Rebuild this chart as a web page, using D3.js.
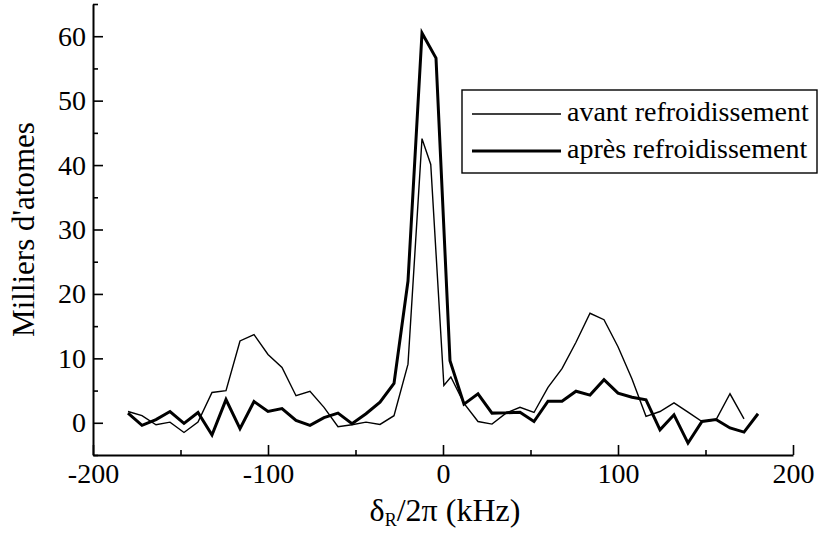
<!DOCTYPE html>
<html>
<head>
<meta charset="utf-8">
<script src="https://cdn.jsdelivr.net/npm/d3@7"></script>
<style>
  html, body { margin: 0; padding: 0; background: #fff; }
  svg { display: block; }
  svg text { font-family: "Times New Roman", Times, "Liberation Serif", serif !important; fill: #000; }
</style>
</head>
<body>
<svg id="chart" width="822" height="536"></svg>
<script>
// ---- data ----
const xAvant = [-180,-172,-164,-156,-148,-140,-132,-124,-116,-108,-100,-92,-84,-76,-68,-60,-52,-44,-36,-28,-20,-12,
                -7,0.5,4.5,
                12,20,28,36,44,52,60,68,76,84,92,100,108,116,124,132,140,148,156,164,172];
const avant = [1.75,1.1,-0.3,0.1,-1.5,0.1,4.7,5.0,12.7,13.7,10.6,8.6,4.2,4.9,2.4,-0.6,-0.3,0.1,-0.26,1.1,9.1,44.1,
               40.1,5.8,7.1,
               3.0,0.2,-0.2,1.5,2.4,1.6,5.5,8.4,12.5,17.0,16.0,11.8,6.8,1.0,1.75,3.1,1.65,0.2,0.46,4.5,0.6];
const xApres = [-180,-172,-164,-156,-148,-140,-132,-124,-116,-108,-100,-92,-84,-76,-68,-60,
                -52,-44,-36,-28,-20,-12,-4,4,12,20,28,
                36,44,52,60,68,76,84,92,100,
                108,116,124,132,140,148,156,164,172,180];
const apres = [1.5,-0.4,0.5,1.75,-0.1,1.6,-1.9,3.6,-0.9,3.3,1.75,2.2,0.36,-0.4,0.8,1.5,
               -0.15,1.4,3.2,6.1,22,60.5,56.6,9.65,2.9,4.5,1.5,
               1.55,1.65,0.2,3.35,3.35,4.9,4.3,6.7,4.6,
               3.97,3.56,-1.1,1.24,-3.15,0.2,0.5,-0.8,-1.45,1.4];
const xTicks = [-200,-100,0,100,200];
const xMinor = [-150,-50,50,150];
const yTicks = [0,10,20,30,40,50,60];
const yMinor = [-5,5,15,25,35,45,55,65];
const seriesNames = ["avant refroidissement", "après refroidissement"];

const FONT = "'Times New Roman', Times, 'Liberation Serif', serif";

// ---- layout ----
const svg = d3.select("#chart");
const x = d3.scaleLinear().domain([-200, 200]).range([93, 793]);
const y = d3.scaleLinear().domain([-5, 65]).range([455, 4]);

// axes
const fmt = d => String(d);
const gx = svg.append("g").attr("transform", `translate(0,${y(-5)})`)
  .call(d3.axisBottom(x).tickValues(xTicks).tickFormat(fmt).tickSizeInner(-10).tickSizeOuter(0).tickPadding(8.5));
const gxm = svg.append("g").attr("transform", `translate(0,${y(-5)})`)
  .call(d3.axisBottom(x).tickValues(xMinor).tickFormat("").tickSizeInner(-5).tickSizeOuter(0));
const gy = svg.append("g").attr("transform", `translate(${x(-200)},0)`)
  .call(d3.axisLeft(y).tickValues(yTicks).tickFormat(fmt).tickSizeInner(-10).tickSizeOuter(0).tickPadding(7));
const gym = svg.append("g").attr("transform", `translate(${x(-200)},0)`)
  .call(d3.axisLeft(y).tickValues(yMinor).tickFormat("").tickSizeInner(-5).tickSizeOuter(0));
[gx, gxm, gy, gym].forEach(g => {
  g.attr("font-family", FONT);
  g.selectAll("path.domain").attr("stroke", "#000").attr("stroke-width", 2);
  g.selectAll(".tick line").attr("stroke", "#000").attr("stroke-width", 1.6);
  g.selectAll(".tick text").attr("font-size", 28).attr("font-family", FONT);
});
gxm.select("path.domain").remove();
gym.select("path.domain").remove();
gx.selectAll(".tick text").attr("dy", "0.71em");

// axis titles
svg.append("text")
  .attr("transform", `translate(34,${(y(65)+y(-5))/2}) rotate(-90)`)
  .attr("text-anchor", "middle").attr("font-size", 31).attr("font-family", FONT)
  .text("Milliers d'atomes");
const xt = svg.append("text").attr("x", x(0) + 2).attr("y", 521)
  .attr("text-anchor", "middle").attr("font-size", 32).attr("font-family", FONT);
xt.append("tspan").text("δ");
xt.append("tspan").attr("font-size", 18).attr("dy", 5).text("R");
xt.append("tspan").attr("dy", -5).text("/2π (kHz)");

// lines
const line = d3.line().x(d => x(d[0])).y(d => y(d[1]));
svg.append("path").datum(d3.zip(xAvant, avant))
  .attr("fill", "none").attr("stroke", "#000").attr("stroke-width", 1.4).attr("d", line);
svg.append("path").datum(d3.zip(xApres, apres))
  .attr("fill", "none").attr("stroke", "#000").attr("stroke-width", 3).attr("d", line);

// legend
const lg = svg.append("g");
lg.append("rect").attr("x", 462).attr("y", 90).attr("width", 355).attr("height", 83)
  .attr("fill", "#fff").attr("stroke", "#000").attr("stroke-width", 1.4);
const widths = [1.4, 3];
const rows = [114, 151];
seriesNames.forEach((name, i) => {
  lg.append("line").attr("x1", 472).attr("x2", 561).attr("y1", rows[i]).attr("y2", rows[i])
    .attr("stroke", "#000").attr("stroke-width", widths[i]);
  lg.append("text").attr("x", 567).attr("y", rows[i] + 7).attr("font-size", 28)
    .attr("font-family", FONT).text(name);
});
</script>
</body>
</html>
